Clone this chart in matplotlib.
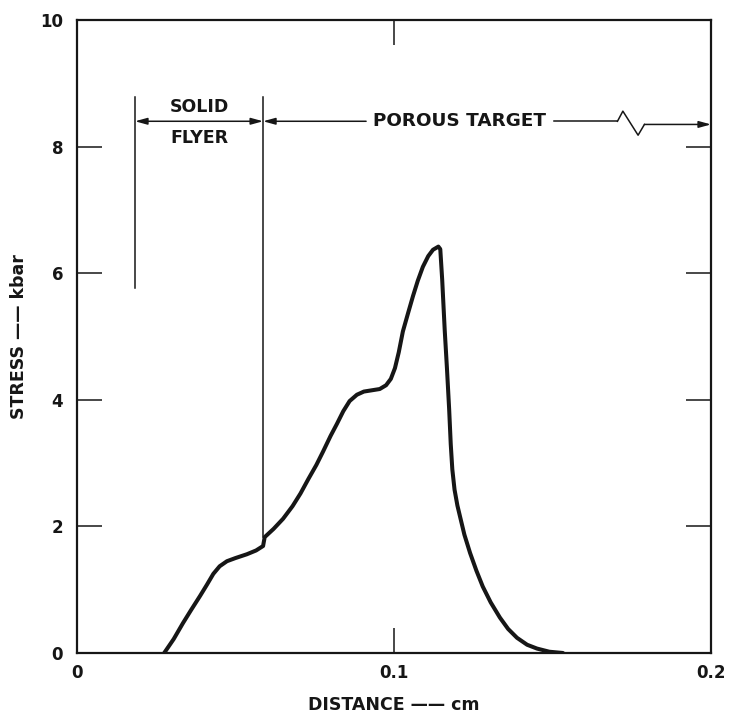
import matplotlib
matplotlib.use("Agg")
import matplotlib.pyplot as plt

# Stress profile through flyer and porous target
distance_cm = [0.0275, 0.0305, 0.0334, 0.0360, 0.0388, 0.0410, 0.0430, 0.0450,
               0.0473, 0.0500, 0.0536, 0.0565, 0.0587, 0.0592, 0.0620, 0.0650,
               0.0680, 0.0705, 0.0730, 0.0755, 0.0776, 0.0800, 0.0820, 0.0840,
               0.0860, 0.0883, 0.0905, 0.0930, 0.0955, 0.0975, 0.0990, 0.1003,
               0.1015, 0.1028, 0.1045, 0.1060, 0.1075, 0.1091, 0.1108, 0.1123,
               0.1140, 0.1146, 0.1152, 0.1160, 0.1167, 0.1174, 0.1179, 0.1184,
               0.1191, 0.1200, 0.1210, 0.1222, 0.1240, 0.1260, 0.1280, 0.1305,
               0.1334, 0.1360, 0.1388, 0.1420, 0.1451, 0.1490, 0.1533]
stress_kbar = [0.00, 0.22, 0.47, 0.68, 0.90, 1.08, 1.25, 1.37,
               1.45, 1.50, 1.56, 1.62, 1.69, 1.83, 1.96, 2.12,
               2.32, 2.52, 2.75, 2.97, 3.18, 3.43, 3.62, 3.82,
               3.98, 4.08, 4.13, 4.15, 4.17, 4.23, 4.33, 4.50,
               4.75, 5.08, 5.38, 5.64, 5.88, 6.10, 6.27, 6.37,
               6.42, 6.38, 5.90, 5.10, 4.50, 3.85, 3.30, 2.90,
               2.58, 2.33, 2.12, 1.87, 1.58, 1.30, 1.05, 0.80,
               0.56, 0.38, 0.24, 0.13, 0.07, 0.02, 0.00]

x_ticks = [0, 0.1, 0.2]
x_tick_labels = ["0", "0.1", "0.2"]
y_ticks = [0, 2, 4, 6, 8, 10]
y_tick_labels = ["0", "2", "4", "6", "8", "10"]

# Region boundaries (cm) and bracket heights (kbar)
flyer_start = 0.0183
flyer_end = 0.0587
target_end = 0.2
bracket_top = 8.78
flyer_line_bottom = 5.77
interface_stress = 1.83
arrow_level = 8.40
break_x = 0.1705

INK = "#161616"
FONT = dict(family="DejaVu Sans", fontweight="bold", color=INK)

fig = plt.figure(figsize=(7.32, 7.27), dpi=100)
ax = fig.add_axes([0.1052, 0.1018, 0.8661, 0.8707])

ax.plot(distance_cm, stress_kbar, color=INK, lw=2.9, solid_joinstyle="round",
        solid_capstyle="round", zorder=3)

ax.set_xlim(0, 0.2)
ax.set_ylim(0, 10)
ax.set_xticks(x_ticks)
ax.set_xticklabels(x_tick_labels)
ax.set_yticks(y_ticks)
ax.set_yticklabels(y_tick_labels)
ax.tick_params(direction="in", length=18, width=1.1, color=INK,
               top=True, right=True, labelsize=12)
ax.tick_params(axis="y", pad=10)
ax.tick_params(axis="x", pad=8)
for lab in ax.get_xticklabels() + ax.get_yticklabels():
    lab.set_fontweight("bold")
    lab.set_color(INK)
for sp in ax.spines.values():
    sp.set_linewidth(1.6)
    sp.set_color(INK)

ax.set_xlabel("DISTANCE —— cm", fontsize=12.5, labelpad=10, **FONT)
ax.set_ylabel("STRESS —— kbar", fontsize=12.5, labelpad=9, **FONT)

# Bracket lines for the solid flyer
ax.plot([flyer_start, flyer_start], [flyer_line_bottom, bracket_top], color=INK, lw=1.1)
ax.plot([flyer_end, flyer_end], [interface_stress, bracket_top], color=INK, lw=1.1)

head = dict(color=INK, lw=1.1, shrinkA=0, shrinkB=0, mutation_scale=9)
ax.annotate("", xy=(flyer_start, arrow_level), xytext=(flyer_end, arrow_level),
            arrowprops=dict(arrowstyle="<|-|>,head_length=0.8,head_width=0.22", **head))
ax.text((flyer_start + flyer_end) / 2, arrow_level + 0.22, "SOLID",
        ha="center", va="center", fontsize=12.5, **FONT)
ax.text((flyer_start + flyer_end) / 2, arrow_level - 0.26, "FLYER",
        ha="center", va="center", fontsize=12.5, **FONT)

# Porous target span with a break mark
ax.annotate("", xy=(flyer_end, arrow_level), xytext=(0.0912, arrow_level),
            arrowprops=dict(arrowstyle="-|>,head_length=0.8,head_width=0.22", **head))
ax.text(0.1208, arrow_level, "POROUS TARGET", ha="center", va="center",
        fontsize=13.2, **FONT)
ax.plot([0.1505, break_x], [arrow_level, arrow_level], color=INK, lw=1.1)
ax.plot([break_x, break_x + 0.0017, break_x + 0.0065, break_x + 0.0085],
        [arrow_level, arrow_level + 0.16, arrow_level - 0.22, arrow_level - 0.05],
        color=INK, lw=1.1)
ax.annotate("", xy=(target_end, arrow_level - 0.05),
            xytext=(break_x + 0.0085, arrow_level - 0.05),
            arrowprops=dict(arrowstyle="-|>,head_length=0.8,head_width=0.22", **head))

fig.savefig("out.png", dpi=100, facecolor="white")
